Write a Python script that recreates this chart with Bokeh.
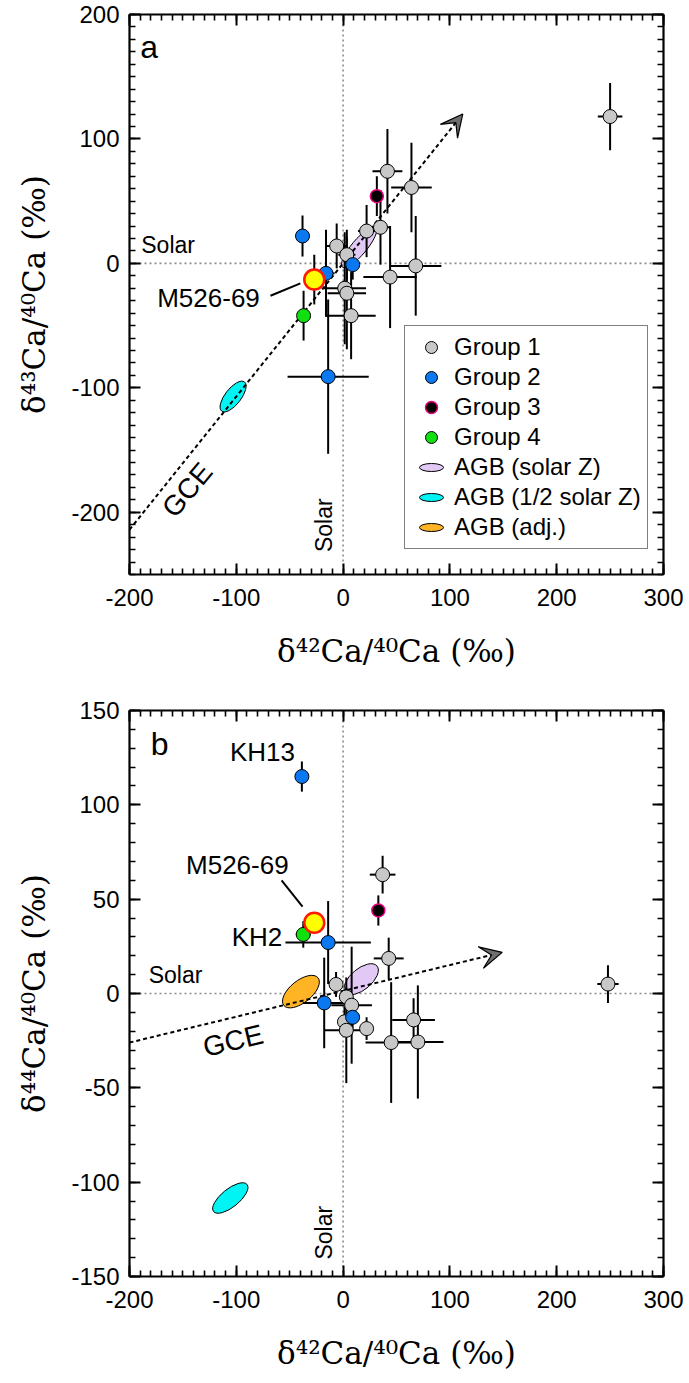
import numpy as np
from bokeh.plotting import figure
from bokeh.models import (Range1d, LinearAxis, SingleIntervalTicker, Span, Label,
                          Arrow, VeeHead, Legend, LegendItem, NumeralTickFormatter)
from bokeh.layouts import column
from bokeh.embed import file_html
from bokeh.resources import INLINE

# ---------------- data ----------------
# Panel a : d42Ca/40Ca (x) vs d43Ca/40Ca (y)
a_g1_x = [-6, 3.5, 1.5, 3.5, 7.5, 22, 35, 41.5, 64, 44, 68, 250]
a_g1_y = [14, 7, -20, -24, -42, 26, 29, 74, 61, -11, -2, 118]
a_g1_xe = [10, 8, 20, 18, 23, 8, 9, 14, 19, 25, 24, 11.5]
a_g1_ye = [18, 20, 45, 45, 35, 21, 30, 34, 36, 41, 40, 27]
a_g2_x = [-38, -16, 9, -14]
a_g2_y = [22, -8, -1, -91]
a_g2_xe = [3, 8, 4, 38]
a_g2_ye = [16.5, 35, 12, 62]
a_g3_x = [31.6]
a_g3_y = [54]
a_g3_xe = [3]
a_g3_ye = [16]
a_g4_x = [-37]
a_g4_y = [-42]
a_g4_xe = [4]
a_g4_ye = [20]
a_m_x = [-27]
a_m_y = [-13]
a_m_xe = [5]
a_m_ye = [20]
# AGB model ellipses (centres)
a_agb_solar = (15, 13)
a_agb_half = (-103, -107)
# GCE trend
a_gce_x = [-200, 112]
a_gce_y = [-214, 120]

# Panel b : d42Ca/40Ca (x) vs d44Ca/40Ca (y)
b_g1_x = [-6.6, 3, 8, 1.3, 3, 22, 37, 42.7, 66, 45, 70, 248]
b_g1_y = [4.8, -1.8, -6.2, -15, -19.5, -18.6, 63, 18.6, -14, -26, -25.7, 5]
b_g1_xe = [6, 5, 19, 5, 20, 6, 12, 14, 20, 24, 24, 10]
b_g1_ye = [6.6, 5, 31, 8, 28, 6, 10, 11, 11.5, 32, 30, 10]
b_g2_x = [-38.6, -14, -17.7, 8.9]
b_g2_y = [115, 27, -5, -12.6]
b_g2_xe = [3, 40, 20, 3]
b_g2_ye = [8, 22, 24, 6]
b_g3_x = [33]
b_g3_y = [44]
b_g3_xe = [3]
b_g3_ye = [8]
b_g4_x = [-37.3]
b_g4_y = [31.3]
b_g4_xe = [7]
b_g4_ye = [7]
b_m_x = [-27]
b_m_y = [37.5]
b_agb_solar = (17, 7.6)
b_agb_adj = (-39.5, 1)
b_agb_half = (-105.6, -108.4)
b_gce_x = [-200, 149]
b_gce_y = [-26, 21.8]

SANS = "Liberation Sans"
SERIF = "DejaVu Serif"
XLABEL = "δ⁴²Ca/⁴⁰Ca (‰)"

C_GRAY = "#c8c8c8"
C_BLUE = "#0a78f0"
C_GREEN = "#10e010"
C_MAG = "#e6007e"
C_PINK = "#e2c8f4"
C_CYAN = "#00f4f4"
C_ORANGE = "#ffb426"


def make_fig(y0, y1, ymaj, yminor, fh, top, bottom, ylabel):
    p = figure(frame_width=534, frame_height=fh,
               x_range=Range1d(-200, 300), y_range=Range1d(y0, y1),
               output_backend="svg", toolbar_location=None,
               x_axis_type=None, y_axis_type=None,
               min_border_left=129, min_border_right=24,
               min_border_top=top, min_border_bottom=bottom,
               background_fill_color="white", border_fill_color="white")
    p.outline_line_color = None
    xt = SingleIntervalTicker(interval=100, num_minor_ticks=10)
    yt = SingleIntervalTicker(interval=ymaj, num_minor_ticks=yminor)
    for loc, tk, show in [("below", xt, True), ("left", yt, True),
                          ("above", xt, False), ("right", yt, False)]:
        ax = LinearAxis(ticker=tk, formatter=NumeralTickFormatter(format="0"))
        ax.axis_line_width = 2.2
        ax.axis_line_color = "black"
        ax.major_tick_in = 11
        ax.major_tick_out = 0
        ax.minor_tick_in = 6
        ax.minor_tick_out = 0
        ax.major_tick_line_width = 2
        ax.minor_tick_line_width = 1.6
        ax.major_label_text_font = SANS
        ax.major_label_text_font_size = "24px"
        ax.major_label_text_color = "black"
        if show:
            ax.major_label_standoff = 14 if loc == "below" else 10
            ax.axis_label_text_font = SERIF
            ax.axis_label_text_font_size = "31px"
            ax.axis_label_text_font_style = "normal"
            ax.axis_label_text_color = "black"
            ax.axis_label_standoff = 24 if loc == "below" else 16
            ax.axis_label = XLABEL if loc == "below" else ylabel
        else:
            ax.major_label_text_font_size = "0px"
            ax.major_label_text_color = None
            ax.major_label_standoff = 0
        p.add_layout(ax, loc)
    for dim in ("width", "height"):
        p.add_layout(Span(location=0, dimension=dim, line_color="#8c8c8c",
                          line_dash="2 3", line_width=1.6, level="underlay"))
    return p


def errbars(p, x, y, xe, ye):
    x = np.asarray(x, float); y = np.asarray(y, float)
    xe = np.asarray(xe, float); ye = np.asarray(ye, float)
    p.segment(x - xe, y, x + xe, y, line_color="black", line_width=2)
    p.segment(x, y - ye, x, y + ye, line_color="black", line_width=2)


def points(p, x, y, fill, line="black", size=14, lw=1):
    return p.scatter(x, y, size=size, marker="circle", fill_color=fill,
                     line_color=line, line_width=lw)


def ellipse(p, c, w, h, ang, fill):
    return p.ellipse(x=[c[0]], y=[c[1]], width=w, height=h, angle=ang,
                     angle_units="deg", width_units="screen", height_units="screen",
                     fill_color=fill, line_color="black", line_width=1)


def gce(p, gx, gy):
    p.line(gx, gy, line_color="black", line_width=2, line_dash="4 3")
    p.add_layout(Arrow(end=VeeHead(size=22, fill_color="#6e6e6e", line_color="black",
                                   line_width=1.2),
                       x_start=gx[0], y_start=gy[0], x_end=gx[1], y_end=gy[1],
                       line_color=None, line_alpha=0))


# ---------------- panel a ----------------
pa = make_fig(-250, 200, 100, 10, 560, 14, 122, "δ⁴³Ca/⁴⁰Ca (‰)")
ellipse(pa, a_agb_solar, 52, 15, 50, C_PINK)
ellipse(pa, a_agb_half, 37, 16, 52, C_CYAN)
gce(pa, a_gce_x, a_gce_y)
errbars(pa, a_g1_x, a_g1_y, a_g1_xe, a_g1_ye)
errbars(pa, a_g2_x, a_g2_y, a_g2_xe, a_g2_ye)
errbars(pa, a_g3_x, a_g3_y, a_g3_xe, a_g3_ye)
errbars(pa, a_g4_x, a_g4_y, a_g4_xe, a_g4_ye)
errbars(pa, a_m_x, a_m_y, a_m_xe, a_m_ye)
ra1 = points(pa, a_g1_x, a_g1_y, C_GRAY)
ra2 = points(pa, a_g2_x, a_g2_y, C_BLUE)
ra3 = points(pa, a_g3_x, a_g3_y, "black", line=C_MAG, size=13, lw=1.5)
ra4 = points(pa, a_g4_x, a_g4_y, C_GREEN)
points(pa, a_m_x, a_m_y, "#ffff00", line="#ff1a00", size=20, lw=2.5)
pa.segment([a_m_x[0] - 13], [a_m_y[0] - 3], [a_m_x[0] - 41], [a_m_y[0] - 13],
           line_color="black", line_width=2)

nan = np.array([np.nan])
d1 = pa.ellipse(x=nan, y=nan, width=30, height=10, width_units="screen",
                height_units="screen", fill_color=C_PINK, line_color="black")
d2 = pa.ellipse(x=nan, y=nan, width=30, height=10, width_units="screen",
                height_units="screen", fill_color=C_CYAN, line_color="black")
d3 = pa.ellipse(x=nan, y=nan, width=30, height=10, width_units="screen",
                height_units="screen", fill_color=C_ORANGE, line_color="black")
leg = Legend(items=[
    LegendItem(label="Group 1", renderers=[ra1]),
    LegendItem(label="Group 2", renderers=[ra2]),
    LegendItem(label="Group 3", renderers=[ra3]),
    LegendItem(label="Group 4", renderers=[ra4]),
    LegendItem(label="AGB (solar Z)", renderers=[d1]),
    LegendItem(label="AGB (1/2 solar Z)", renderers=[d2]),
    LegendItem(label="AGB (adj.)", renderers=[d3]),
], location=(275, 25))
leg.border_line_color = "black"
leg.border_line_width = 1.5
leg.background_fill_alpha = 1
leg.padding = 6
leg.spacing = 0
leg.margin = 0
leg.glyph_width = 40
leg.glyph_height = 30
leg.label_height = 30
leg.label_standoff = 3
leg.label_text_font = SANS
leg.label_text_font_size = "24px"
leg.label_text_color = "black"
leg.label_text_baseline = "middle"
pa.add_layout(leg)

lab = dict(text_font=SANS, text_color="black")
pa.add_layout(Label(x=-190, y=174, text="a", text_font_size="32px",
                    text_baseline="middle", **lab))
pa.add_layout(Label(x=-189, y=4, text="Solar", text_font_size="23px",
                    text_baseline="bottom", **lab))
pa.add_layout(Label(x=-6, y=-232, text="Solar", text_font_size="23px", angle=90,
                    angle_units="deg", text_baseline="bottom", **lab))
pa.add_layout(Label(x=-78, y=-28, text="M526-69", text_font_size="26px",
                    text_align="right", text_baseline="middle", **lab))
pa.add_layout(Label(x=-146, y=-182, text="GCE", text_font_size="28px", angle=50,
                    angle_units="deg", text_align="center", text_baseline="middle", **lab))

# ---------------- panel b ----------------
pb = make_fig(-150, 150, 50, 5, 566, 14, 90, "δ⁴⁴Ca/⁴⁰Ca (‰)")
ellipse(pb, b_agb_solar, 41, 21, 40, C_PINK)
ellipse(pb, b_agb_adj, 44, 22, 39, C_ORANGE)
ellipse(pb, b_agb_half, 43, 18, 39, C_CYAN)
gce(pb, b_gce_x, b_gce_y)
errbars(pb, b_g1_x, b_g1_y, b_g1_xe, b_g1_ye)
errbars(pb, b_g2_x, b_g2_y, b_g2_xe, b_g2_ye)
errbars(pb, b_g3_x, b_g3_y, b_g3_xe, b_g3_ye)
errbars(pb, b_g4_x, b_g4_y, b_g4_xe, b_g4_ye)
points(pb, b_g1_x, b_g1_y, C_GRAY)
points(pb, b_g2_x, b_g2_y, C_BLUE)
points(pb, b_g3_x, b_g3_y, "black", line=C_MAG, size=13, lw=1.5)
points(pb, b_g4_x, b_g4_y, C_GREEN)
points(pb, b_m_x, b_m_y, "#ffff00", line="#ff1a00", size=20, lw=2.5)
pb.segment([b_m_x[0] - 11], [b_m_y[0] + 8.5], [b_m_x[0] - 30.6], [b_m_y[0] + 22.5],
           line_color="black", line_width=2)

pb.add_layout(Label(x=-180, y=132, text="b", text_font_size="32px",
                    text_baseline="middle", **lab))
pb.add_layout(Label(x=-182, y=3, text="Solar", text_font_size="23px",
                    text_baseline="bottom", **lab))
pb.add_layout(Label(x=-6, y=-141, text="Solar", text_font_size="23px", angle=90,
                    angle_units="deg", text_baseline="bottom", **lab))
pb.add_layout(Label(x=-45, y=128, text="KH13", text_font_size="26px",
                    text_align="right", text_baseline="middle", **lab))
pb.add_layout(Label(x=-51, y=68, text="M526-69", text_font_size="26px",
                    text_align="right", text_baseline="middle", **lab))
pb.add_layout(Label(x=-57, y=30, text="KH2", text_font_size="26px",
                    text_align="right", text_baseline="middle", **lab))
pb.add_layout(Label(x=-103, y=-25, text="GCE", text_font_size="28px", angle=13.5,
                    angle_units="deg", text_align="center", text_baseline="middle", **lab))

layout = column(pa, pb)
open("out.html", "w").write(file_html(layout, INLINE))
